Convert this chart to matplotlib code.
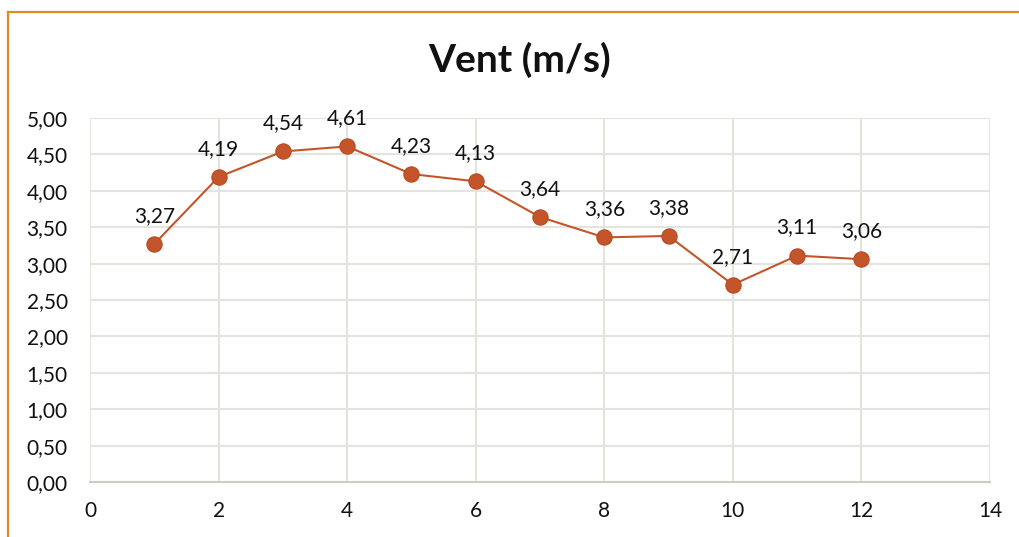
import matplotlib
matplotlib.use("Agg")
import matplotlib.pyplot as plt
from matplotlib.lines import Line2D
from matplotlib.ticker import FuncFormatter

months = [1, 2, 3, 4, 5, 6, 7, 8, 9, 10, 11, 12]
wind = [3.27, 4.19, 4.54, 4.61, 4.23, 4.13, 3.64, 3.36, 3.38, 2.71, 3.11, 3.06]
title = "Vent (m/s)"

plt.rcParams['font.family'] = ['Lato', 'DejaVu Sans']

W, H = 1019, 537
fig = plt.figure(figsize=(W / 100, H / 100), dpi=100)
ax = fig.add_axes([90 / W, 1 - 482 / H, (990 - 90) / W, (482 - 118) / H])

line_color = '#C4552A'
ax.plot(months, wind, color=line_color, lw=1.5, marker='o', markersize=11,
        markerfacecolor='#C4552A', markeredgecolor='#B84A22', markeredgewidth=0.8,
        zorder=3, clip_on=False)
for x, y in zip(months, wind):
    ax.annotate(f"{y:.2f}".replace('.', ','), (x, y), xytext=(0, 13),
                textcoords='offset points', ha='center', va='bottom', fontsize=15,
                color='#111111')

ax.set_xlim(0, 14)
ax.set_ylim(0, 5)
ax.set_xticks(range(0, 15, 2))
ax.set_yticks([i * 0.5 for i in range(11)])
ax.yaxis.set_major_formatter(FuncFormatter(lambda v, p: f"{v:.2f}".replace('.', ',')))
ax.grid(True, color='#E4E4DE', lw=1.5)
ax.set_axisbelow(True)
for s in ['top', 'right', 'left']:
    ax.spines[s].set_visible(False)
ax.spines['bottom'].set_color('#C9CFC0')
ax.spines['bottom'].set_linewidth(1.5)
ax.tick_params(length=0, labelsize=15, colors='#111111', pad=14)
ax.tick_params(axis='y', pad=16)
ax.tick_params(axis='x', pad=14)

fig.text(520 / W, 1 - 60 / H, title, ha='center', va='center', fontsize=28,
         fontweight='bold', color='#111111')

border = '#E08A22'
fig.add_artist(Line2D([8 / W, 1], [1 - 12 / H, 1 - 12 / H], color=border, lw=1.6))
fig.add_artist(Line2D([8 / W, 8 / W], [1 - 12 / H, 0], color=border, lw=1.6))

fig.savefig('out.png', dpi=100)
